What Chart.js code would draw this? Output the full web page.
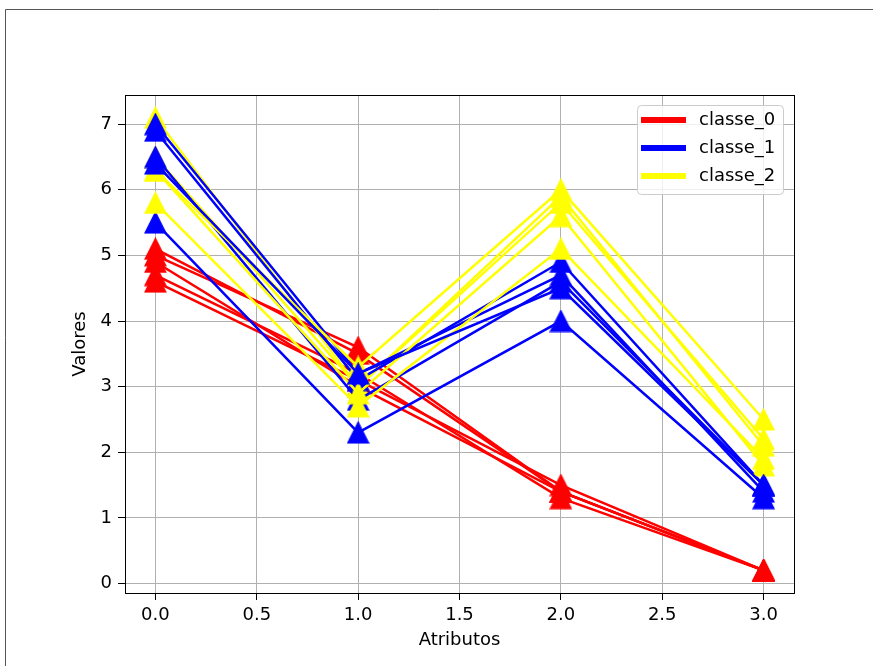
<!DOCTYPE html>
<html>
<head>
<meta charset="utf-8">
<script src="https://cdn.jsdelivr.net/npm/chart.js@4.4.1/dist/chart.umd.min.js"></script>
<style>
  html, body { margin: 0; padding: 0; background: #fff; }
  canvas { display: block; }
</style>
</head>
<body>
<canvas id="irisChart" width="873" height="666"></canvas>
<script>
// ================= DATA =================
const atributos = [0, 1, 2, 3];

const classe0 = [
  [5.1, 3.5, 1.4, 0.2],
  [4.9, 3.0, 1.4, 0.2],
  [4.7, 3.2, 1.3, 0.2],
  [4.6, 3.1, 1.5, 0.2],
  [5.0, 3.6, 1.4, 0.2],
];
const classe1 = [
  [7.0, 3.2, 4.7, 1.4],
  [6.4, 3.2, 4.5, 1.5],
  [6.9, 3.1, 4.9, 1.5],
  [5.5, 2.3, 4.0, 1.3],
  [6.5, 2.8, 4.6, 1.5],
];
const classe2 = [
  [6.3, 3.3, 6.0, 2.5],
  [5.8, 2.7, 5.1, 1.9],
  [7.1, 3.0, 5.9, 2.1],
  [6.3, 2.9, 5.6, 1.8],
  [6.5, 3.0, 5.8, 2.2],
];

const classNames = ["classe_0", "classe_1", "classe_2"];
const classColors = ["#ff0000", "#0000ff", "#ffff00"];

const xTicks = [0, 0.5, 1, 1.5, 2, 2.5, 3];
const yTicks = [0, 1, 2, 3, 4, 5, 6, 7];

// plotting order, first one is at the bottom: [class, sample]
const drawOrder = [
  [0, 0], [0, 1], [0, 2], [0, 3], [0, 4],
  [1, 3], [2, 2], [2, 4], [1, 2], [1, 0],
  [1, 4], [2, 0], [2, 3], [2, 1], [1, 1],
];

const FONT = { family: "'DejaVu Sans', sans-serif", size: 18 };

// ================= MARKERS =================
function makeTriangle(color) {
  const size = 23;
  const c = document.createElement("canvas");
  c.width = size;
  c.height = size;
  const ctx = c.getContext("2d");
  ctx.fillStyle = color;
  ctx.strokeStyle = color;
  ctx.lineWidth = 1.2;
  ctx.beginPath();
  ctx.moveTo(size / 2, 1);
  ctx.lineTo(size - 1, size - 1);
  ctx.lineTo(1, size - 1);
  ctx.closePath();
  ctx.fill();
  ctx.stroke();
  return c;
}

const markers = classColors.map(makeTriangle);
const classes = [classe0, classe1, classe2];

// chart.js draws dataset 0 on top, so reverse the order
const datasets = drawOrder
  .slice()
  .reverse()
  .map(([c, i]) => ({
    label: classNames[c],
    data: atributos.map((x, k) => ({ x: x, y: classes[c][i][k] })),
    borderColor: classColors[c],
    backgroundColor: classColors[c],
    borderWidth: 2.5,
    pointStyle: markers[c],
    pointRadius: 11,
    tension: 0,
    clip: false,
  }));

// ================= FRAME + LEGEND =================
const framePlugin = {
  id: "frame",
  beforeDraw(chart) {
    const ctx = chart.ctx;
    ctx.save();
    ctx.fillStyle = "#fff";
    ctx.fillRect(0, 0, chart.width, chart.height);
    ctx.strokeStyle = "#555";
    ctx.lineWidth = 1;
    ctx.beginPath();
    ctx.moveTo(5.5, chart.height);
    ctx.lineTo(5.5, 9.5);
    ctx.lineTo(chart.width, 9.5);
    ctx.stroke();
    ctx.restore();
  },
  afterDatasetsDraw(chart) {
    const ctx = chart.ctx;
    const a = chart.chartArea;
    ctx.save();
    // axes box
    ctx.strokeStyle = "#000";
    ctx.lineWidth = 1;
    ctx.strokeRect(
      Math.round(a.left) + 0.5,
      Math.round(a.top) + 0.5,
      Math.round(a.right - a.left),
      Math.round(a.bottom - a.top)
    );

    // legend box
    const bx = 637, by = 105, bw = 146, bh = 89;
    ctx.fillStyle = "rgba(255,255,255,0.8)";
    ctx.strokeStyle = "#cccccc";
    ctx.beginPath();
    ctx.roundRect(bx + 0.5, by + 0.5, bw, bh, 4);
    ctx.fill();
    ctx.stroke();

    ctx.font = FONT.size + "px " + FONT.family;
    ctx.textBaseline = "middle";
    classNames.forEach((name, i) => {
      const y = 120 + i * 28;
      ctx.fillStyle = classColors[i];
      ctx.fillRect(641, y - 3, 45, 6);
      ctx.fillStyle = "#000";
      ctx.fillText(name, 699, y);
    });
    ctx.restore();
  },
};

// ================= CHART =================
new Chart(document.getElementById("irisChart"), {
  type: "line",
  data: { datasets: datasets },
  plugins: [framePlugin],
  options: {
    responsive: false,
    animation: false,
    layout: { padding: { left: 0, top: 95, right: 79, bottom: 0 } },
    plugins: {
      legend: { display: false },
      tooltip: { enabled: false },
    },
    scales: {
      x: {
        type: "linear",
        min: -0.15,
        max: 3.15,
        afterBuildTicks: (s) => {
          s.ticks = xTicks.map((v) => ({ value: v }));
        },
        afterFit: (s) => {
          s.height = 73;
        },
        ticks: {
          callback: (v) => v.toFixed(1),
          color: "#000",
          font: FONT,
          padding: 5,
          maxRotation: 0,
          autoSkip: false,
        },
        grid: {
          color: "#b0b0b0",
          lineWidth: 1,
          tickColor: "#000",
          tickLength: 7,
          tickWidth: 1,
        },
        border: { color: "#000", width: 1 },
        title: {
          display: true,
          text: "Atributos",
          color: "#000",
          font: FONT,
          padding: { top: 0, bottom: 15 },
        },
      },
      y: {
        type: "linear",
        min: -0.145,
        max: 7.445,
        afterBuildTicks: (s) => {
          s.ticks = yTicks.map((v) => ({ value: v }));
        },
        afterFit: (s) => {
          s.width = 125;
        },
        ticks: {
          callback: (v) => String(v),
          color: "#000",
          font: FONT,
          padding: 6,
          autoSkip: false,
        },
        grid: {
          color: "#b0b0b0",
          lineWidth: 1,
          tickColor: "#000",
          tickLength: 7,
          tickWidth: 1,
        },
        border: { color: "#000", width: 1 },
        title: {
          display: true,
          text: "Valores",
          color: "#000",
          font: FONT,
          padding: { top: 70, bottom: 0 },
        },
      },
    },
  },
});
</script>
</body>
</html>
